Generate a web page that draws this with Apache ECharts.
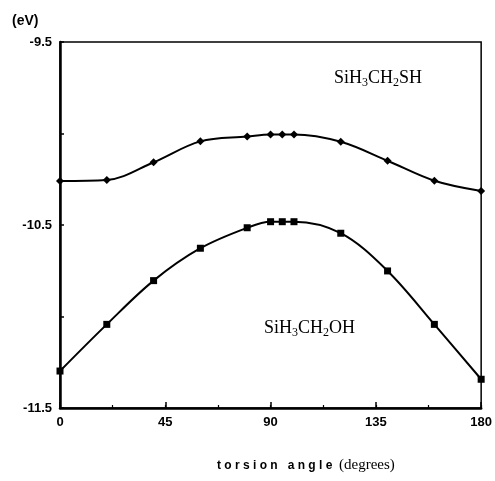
<!DOCTYPE html>
<html><head><meta charset="utf-8">
<script src="https://cdn.jsdelivr.net/npm/echarts@6/dist/echarts.min.js"></script>
<style>html,body{margin:0;padding:0;background:#fff}#c{width:495px;height:481px}</style>
</head><body><div id="c"></div>
<script>
const anglesSH = [0, 20, 40, 60, 80, 90, 95, 100, 120, 140, 160, 180];
const energySH = [-10.26, -10.254, -10.157, -10.043, -10.017, -10.005, -10.005, -10.005, -10.045, -10.149, -10.258, -10.314];
const anglesOH = [0, 20, 40, 60, 80, 90, 95, 100, 120, 140, 160, 180];
const energyOH = [-11.298, -11.043, -10.804, -10.627, -10.515, -10.482, -10.482, -10.482, -10.545, -10.751, -11.043, -11.343];
const xTickLabels = [0, 45, 90, 135, 180];
const yTickLabels = [-9.5, -10.5, -11.5];

const chart = echarts.init(document.getElementById('c'), null, {renderer: 'canvas'});
chart.setOption({
  animation: false,
  backgroundColor: '#fff',
  grid: {left: 60, right: 13, top: 42, bottom: 73, show: true, borderColor: '#000', borderWidth: 1.5},
  xAxis: [{
    type: 'value', min: 0, max: 180, interval: 45,
    axisLine: {show: true, onZero: false, lineStyle: {color: '#000', width: 2.5}},
    axisTick: {show: true, inside: true, length: 6, lineStyle: {color: '#000', width: 1.5}},
    axisLabel: {color: '#000', fontWeight: 'bold', fontSize: 13, fontFamily: '"Liberation Sans", Arial', margin: 8,
      formatter: v => xTickLabels.includes(v) ? String(v) : ''},
    splitLine: {show: false}
  }, {
    type: 'value', min: 0, max: 180, interval: 22.5, position: 'bottom',
    axisLine: {show: false},
    axisTick: {show: true, inside: true, length: 3, lineStyle: {color: '#000', width: 1.2}},
    axisLabel: {show: false}, splitLine: {show: false}
  }],
  yAxis: [{
    type: 'value', min: -11.5, max: -9.5, interval: 1 / 2,
    axisLine: {show: true, onZero: false, lineStyle: {color: '#000', width: 2.5}},
    axisTick: {show: true, inside: true, length: 4, lineStyle: {color: '#000', width: 1.5}},
    axisLabel: {color: '#000', fontWeight: 'bold', fontSize: 13, fontFamily: '"Liberation Sans", Arial', margin: 8,
      formatter: v => yTickLabels.some(t => Math.abs(t - v) < 1e-6) ? String(v) : ''},
    splitLine: {show: false}
  }],
  series: [{
    type: 'line', smooth: 0.35,
    data: anglesSH.map((a, i) => [a, energySH[i]]),
    symbol: 'diamond', symbolSize: 8,
    lineStyle: {color: '#000', width: 2}, itemStyle: {color: '#000'}
  }, {
    type: 'line', smooth: 0.35,
    data: anglesOH.map((a, i) => [a, energyOH[i]]),
    symbol: 'rect', symbolSize: 7,
    lineStyle: {color: '#000', width: 2}, itemStyle: {color: '#000'}
  }],
  graphic: [
    {type: 'text', left: 12, top: 14, style: {text: '(eV)', font: 'bold 14px "Liberation Sans", Arial', fill: '#000'}},
    {type: 'text', left: 334, top: 69, style: {
      text: 'SiH{s|3}CH{s|2}SH', font: '18px "Liberation Serif", "Times New Roman", serif', fill: '#000',
      rich: {s: {font: '12px "Liberation Serif", serif', padding: [9, 0, 0, 0], fill: '#000'}}}},
    {type: 'text', left: 264, top: 319, style: {
      text: 'SiH{s|3}CH{s|2}OH', font: '18px "Liberation Serif", "Times New Roman", serif', fill: '#000',
      rich: {s: {font: '12px "Liberation Serif", serif', padding: [9, 0, 0, 0], fill: '#000'}}}},
    {type: 'text', left: 217, top: 458, style: {
      text: '{a|t o r s i o n   a n g l e}  {b|(degrees)}', fill: '#000',
      rich: {a: {font: 'bold 12px "Liberation Sans", Arial', fill: '#000'},
             b: {font: '15px "Liberation Serif", serif', fill: '#000'}}}}
  ]
});
</script></body></html>
